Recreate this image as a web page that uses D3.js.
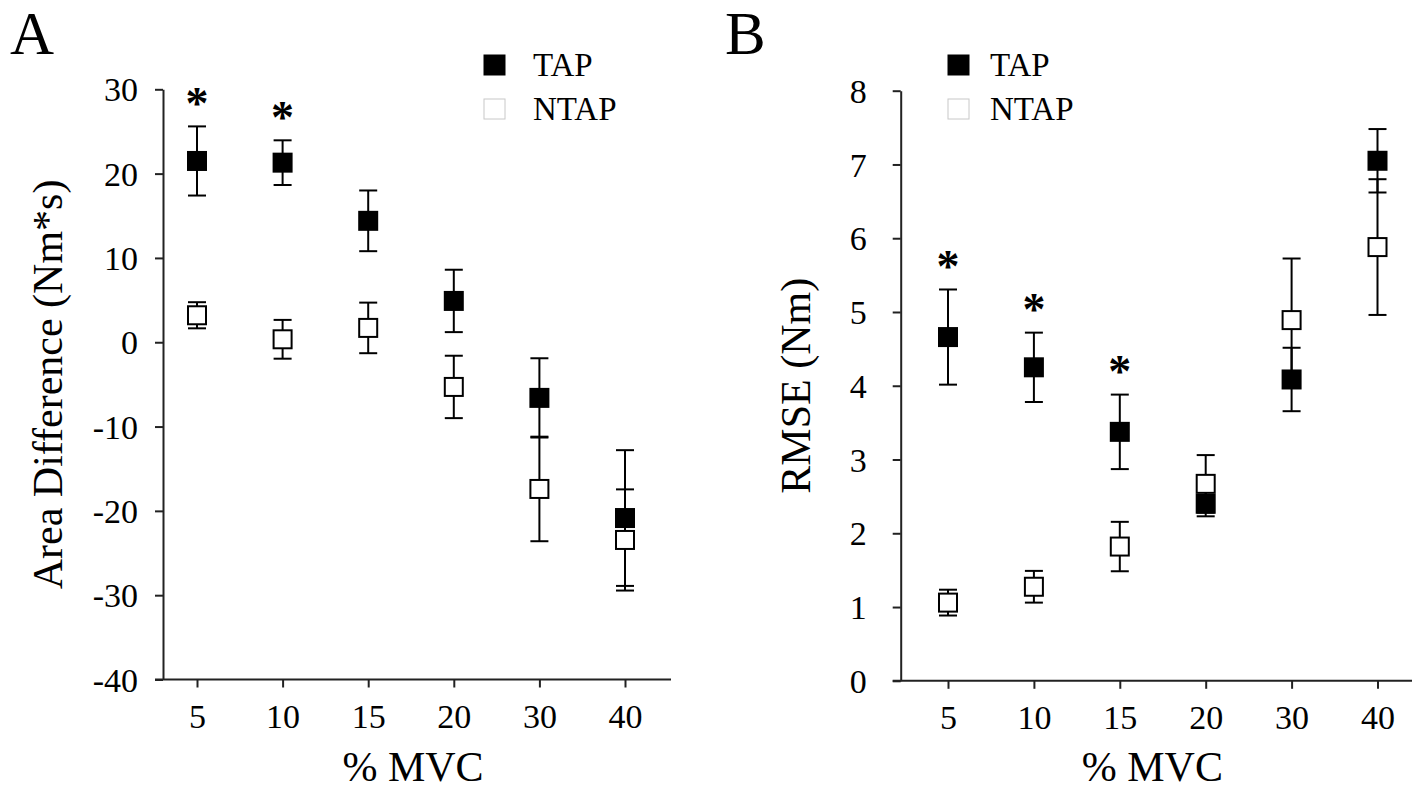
<!DOCTYPE html>
<html>
<head>
<meta charset="utf-8">
<script src="https://cdn.jsdelivr.net/npm/d3@7"></script>
<style>
  html, body { margin: 0; padding: 0; background: #fff; }
  svg { display: block; }
  text { font-family: "Liberation Serif", "Times New Roman", serif; fill: #000; }
</style>
</head>
<body>
<svg id="chart" width="1417" height="793"></svg>
<script>
// Contraction levels (% MVC)
const mvcLevels = ["5", "10", "15", "20", "30", "40"];

// Panel A: area difference (Nm*s), mean and SE
const areaTap    = [21.5, 21.3, 14.4, 4.9, -6.6, -20.85];
const areaTapSE  = [4.1, 2.65, 3.6, 3.7, 4.7, 8.05];
const areaNtap   = [3.2, 0.35, 1.7, -5.3, -17.4, -23.45];
const areaNtapSE = [1.55, 2.3, 3.0, 3.7, 6.2, 6.0];
const areaSig    = ["5", "10"];
const areaTicks  = [-40, -30, -20, -10, 0, 10, 20, 30];

// Panel B: RMSE (Nm), mean and SE
const rmseTap    = [4.66, 4.25, 3.375, 2.40, 4.085, 7.05];
const rmseTapSE  = [0.645, 0.47, 0.505, 0.17, 0.43, 0.43];
const rmseNtap   = [1.06, 1.275, 1.82, 2.67, 4.89, 5.88];
const rmseNtapSE = [0.175, 0.215, 0.335, 0.39, 0.835, 0.92];
const rmseSig    = ["5", "10", "15"];
const rmseTicks  = [0, 1, 2, 3, 4, 5, 6, 7, 8];

const seriesNames = ["TAP", "NTAP"];

const svg = d3.select("#chart");
const MARK = 18;     // square marker side
const CAP = 18;      // error-bar cap width
const TICK = 8;

function drawPanel(cfg) {
  const g = svg.append("g");
  const x = d3.scalePoint().domain(mvcLevels).range(cfg.xRange);
  const y = d3.scaleLinear().domain(cfg.yDomain).range(cfg.yRange);
  const axisX = cfg.axisX;

  // y axis (plain hyphen for negative labels)
  const ya = g.append("g")
    .attr("transform", `translate(${axisX},0)`)
    .call(d3.axisLeft(y).tickValues(cfg.yTicks).tickSize(TICK).tickSizeOuter(0)
      .tickPadding(cfg.yTickPad).tickFormat(d => String(d)));
  ya.select(".domain").attr("stroke", "#222").attr("stroke-width", 2);
  ya.selectAll(".tick line").attr("stroke", "#222").attr("stroke-width", 2);
  ya.selectAll(".tick text")
    .attr("font-family", "Liberation Serif, serif")
    .attr("font-size", 34).attr("fill", "#000").attr("dy", "0.34em");

  // x axis
  const base = y.range()[0];
  const xa = g.append("g")
    .attr("transform", `translate(0,${base})`)
    .call(d3.axisBottom(x).tickSize(TICK).tickSizeOuter(0).tickPadding(16));
  xa.select(".domain").remove();
  xa.append("line")
    .attr("x1", axisX - TICK).attr("x2", cfg.xEnd)
    .attr("y1", 0).attr("y2", 0)
    .attr("stroke", "#222").attr("stroke-width", 2);
  xa.selectAll(".tick line").attr("stroke", "#222").attr("stroke-width", 2);
  xa.selectAll(".tick text")
    .attr("font-family", "Liberation Serif, serif")
    .attr("font-size", 34).attr("fill", "#000");

  // axis titles
  g.append("text")
    .attr("transform", `translate(${cfg.yLabelX},${(y.range()[0] + y.range()[1]) / 2}) rotate(-90)`)
    .attr("text-anchor", "middle")
    .attr("font-size", 42)
    .text(cfg.yLabel);
  g.append("text")
    .attr("x", (axisX - TICK + cfg.xEnd) / 2)
    .attr("y", 781)
    .attr("text-anchor", "middle")
    .attr("font-size", 42)
    .text("% MVC");

  // panel letter
  g.append("text")
    .attr("x", cfg.letterX).attr("y", 54)
    .attr("font-size", 61)
    .text(cfg.letter);

  const series = [
    { name: "TAP",  mean: cfg.tap,  se: cfg.tapSE,  fill: "#000" },
    { name: "NTAP", mean: cfg.ntap, se: cfg.ntapSE, fill: "#fff" }
  ];
  const rows = series.flatMap(s => mvcLevels.map((c, i) => ({
    series: s.name, cat: c, mean: s.mean[i], se: s.se[i], fill: s.fill
  })));

  // error bars (drawn beneath all markers)
  const eb = g.append("g").attr("stroke", "#000").attr("stroke-width", 2);
  rows.forEach(d => {
    const cx = x(d.cat);
    eb.append("line").attr("x1", cx).attr("x2", cx)
      .attr("y1", y(d.mean + d.se)).attr("y2", y(d.mean - d.se));
    [d.mean + d.se, d.mean - d.se].forEach(v => {
      eb.append("line").attr("x1", cx - CAP / 2).attr("x2", cx + CAP / 2)
        .attr("y1", y(v)).attr("y2", y(v));
    });
  });

  // markers: open squares first, filled squares on top
  const order = rows.filter(d => d.series === "NTAP").concat(rows.filter(d => d.series === "TAP"));
  g.append("g").selectAll("rect").data(order).join("rect")
    .attr("x", d => x(d.cat) - MARK / 2)
    .attr("y", d => y(d.mean) - MARK / 2)
    .attr("width", MARK).attr("height", MARK)
    .attr("fill", d => d.fill)
    .attr("stroke", "#000").attr("stroke-width", 2);

  // significance markers above the TAP error bars
  cfg.sig.forEach(c => {
    const i = mvcLevels.indexOf(c);
    g.append("text")
      .attr("x", x(c))
      .attr("y", y(cfg.tap[i] + cfg.tapSE[i]) - 36)
      .attr("dy", "0.62em")
      .attr("text-anchor", "middle")
      .attr("font-family", "Liberation Sans, Arial, sans-serif")
      .attr("font-weight", "bold")
      .attr("font-size", 46)
      .text("*");
  });

  // legend
  const lg = g.append("g");
  seriesNames.forEach((name, i) => {
    const ly = 65 + i * 44;
    lg.append("rect")
      .attr("x", cfg.legendX).attr("y", ly - 10)
      .attr("width", 21).attr("height", 20)
      .attr("fill", name === "TAP" ? "#000" : "#fff")
      .attr("stroke", name === "TAP" ? "#000" : "#c8c8c8")
      .attr("stroke-width", 1);
    lg.append("text")
      .attr("x", cfg.legendX + cfg.legendTextGap).attr("y", ly + 11)
      .attr("font-size", 33)
      .text(name);
  });
}

drawPanel({
  letter: "A", letterX: 10,
  xRange: [197, 625], xEnd: 671, axisX: 163,
  yDomain: [-40, 30], yRange: [679.5, 89.3], yTicks: areaTicks, yTickPad: 17,
  yLabel: "Area Difference (Nm*s)", yLabelX: 62,
  tap: areaTap, tapSE: areaTapSE, ntap: areaNtap, ntapSE: areaNtapSE,
  sig: areaSig, legendX: 484, legendTextGap: 49
});

drawPanel({
  letter: "B", letterX: 725,
  xRange: [948, 1377.5], xEnd: 1412, axisX: 900.7,
  yDomain: [0, 8], yRange: [680.8, 90.7], yTicks: rmseTicks, yTickPad: 26,
  yLabel: "RMSE (Nm)", yLabelX: 810,
  tap: rmseTap, tapSE: rmseTapSE, ntap: rmseNtap, ntapSE: rmseNtapSE,
  sig: rmseSig, legendX: 948, legendTextGap: 42
});
</script>
</body>
</html>
